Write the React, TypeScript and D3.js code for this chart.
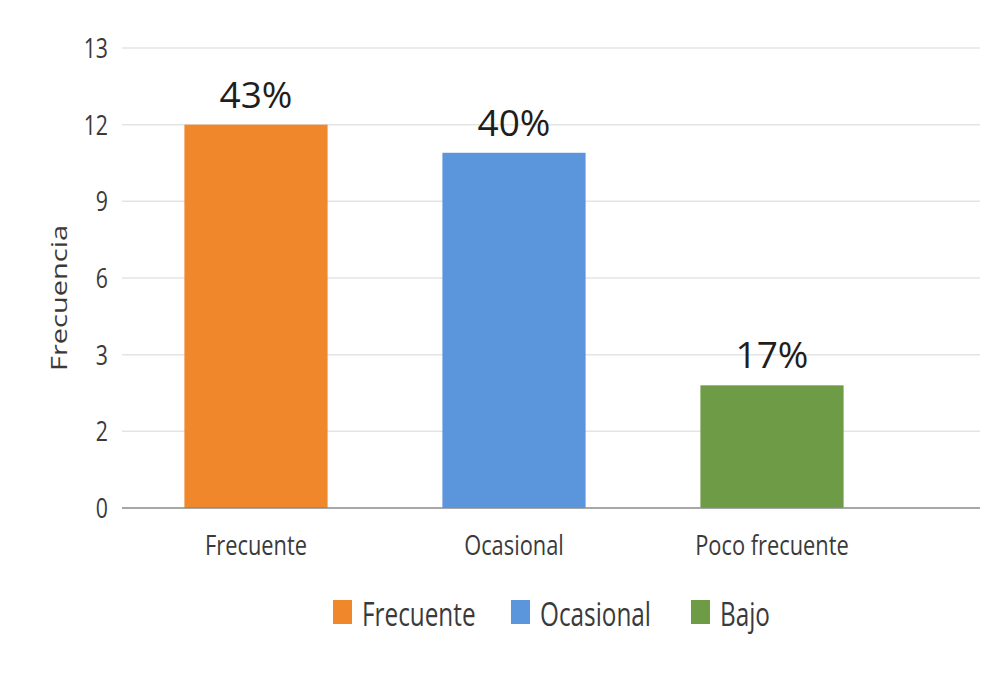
import React from "react";
import * as d3 from "d3";

// Frequency per category, with its share of the total
const categories = ["Frecuente", "Ocasional", "Poco frecuente"];
const frequencies = [12, 10.9, 2.6];
const shares = ["43%", "40%", "17%"];
const colors = ["#F0872B", "#5B96DD", "#6E9B45"];

// Axis labels placed on evenly spaced gridlines
const tickValues = [0, 2, 3, 6, 9, 12, 13];

const legendItems = ["Frecuente", "Ocasional", "Bajo"];
const legendX = [333, 511, 691];

const W = 998;
const H = 674;
const left = 122;
const right = 980;
const bottom = 508;
const top = 48;
const FONT = "'Open Sans', 'Noto Sans', sans-serif";
const SX = 0.76; // narrow type

export default function App() {
  const step = (bottom - top) / (tickValues.length - 1);
  const y = d3
    .scaleLinear()
    .domain(tickValues)
    .range(tickValues.map((_, i) => bottom - i * step));

  const x = d3
    .scaleBand<string>()
    .domain(categories)
    .range([127, 901])
    .paddingInner(0.445)
    .paddingOuter(0.2225);

  return (
    <svg
      width={W}
      height={H}
      style={{ position: "absolute", left: 0, top: 0, background: "#fff" }}
      fontFamily={FONT}
    >
      <rect width={W} height={H} fill="#fff" />

      {/* gridlines and tick labels */}
      {tickValues.map((t) => (
        <g key={t}>
          {t !== 0 && (
            <line x1={left} x2={right} y1={y(t)} y2={y(t)} stroke="#e4e4e4" strokeWidth={1.5} />
          )}
          <text
            transform={`translate(108,${y(t)}) scale(${SX},1)`}
            textAnchor="end"
            dy="0.36em"
            fontSize={28}
            fill="#3a3a3a"
          >
            {t}
          </text>
        </g>
      ))}

      {/* bars */}
      {categories.map((c, i) => (
        <g key={c}>
          <rect
            x={x(c)}
            y={y(frequencies[i])}
            width={x.bandwidth()}
            height={bottom - y(frequencies[i])}
            fill={colors[i]}
          />
          <text
            x={(x(c) ?? 0) + x.bandwidth() / 2}
            y={y(frequencies[i]) - 17}
            textAnchor="middle"
            fontSize={37}
            fill="#1e1e1e"
          >
            {shares[i]}
          </text>
          <text
            transform={`translate(${(x(c) ?? 0) + x.bandwidth() / 2},555) scale(0.78,1)`}
            textAnchor="middle"
            fontSize={28}
            fill="#3a3a3a"
          >
            {c}
          </text>
        </g>
      ))}

      {/* baseline */}
      <line x1={left} x2={right} y1={bottom} y2={bottom} stroke="#8a8a8a" strokeWidth={1.5} />

      {/* y axis title */}
      <text
        transform={`translate(67,298) scale(${SX},1) rotate(-90)`}
        textAnchor="middle"
        fontSize={29}
        fill="#3a3a3a"
      >
        Frecuencia
      </text>

      {/* legend */}
      {legendItems.map((name, i) => (
        <g key={name}>
          <rect x={legendX[i]} y={600} width={19} height={24} fill={colors[i]} />
          <text
            transform={`translate(${legendX[i] + 29},626) scale(${SX},1)`}
            fontSize={32}
            fill="#3a3a3a"
          >
            {name}
          </text>
        </g>
      ))}
    </svg>
  );
}
